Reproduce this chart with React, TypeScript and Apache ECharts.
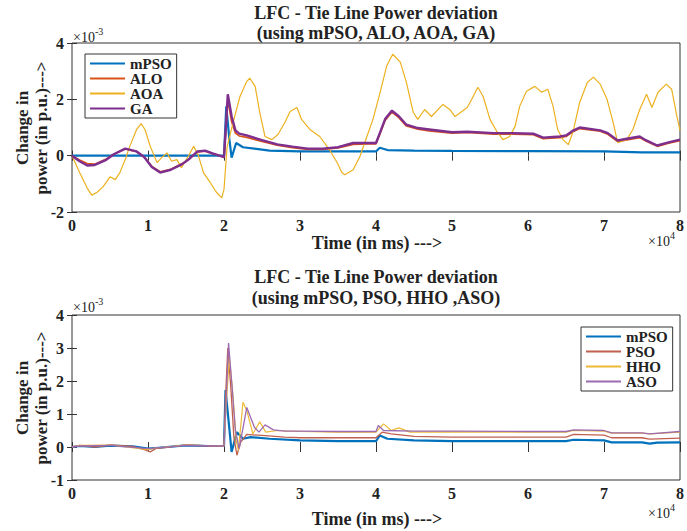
import React, { useEffect, useRef } from "react";
import * as echarts from "echarts";

const FONT = "'Liberation Serif', 'Times New Roman', serif";

// x in units of 1e4 ms, y in units of 1e-3 p.u.
const topTitle1 = "LFC - Tie Line Power deviation";
const topTitle2 = "(using mPSO, ALO, AOA, GA)";
const botTitle1 = "LFC - Tie Line Power deviation";
const botTitle2 = "(using mPSO, PSO, HHO ,ASO)";
const xAxisName = "Time (in ms) --->";
const yAxisName1 = "Change in";
const yAxisName2 = "power (in p.u.)--->";

const topNames = ["mPSO", "ALO", "AOA", "GA"];
const botNames = ["mPSO", "PSO", "HHO", "ASO"];

const topMPSO: [number, number][] = [
  [0, 0], [0.5, 0], [1, 0], [1.5, 0], [2.0, 0.0], [2.03, 1.75], [2.07, 0.6], [2.1, -0.07],
  [2.16, 0.45], [2.25, 0.3], [2.4, 0.25], [2.6, 0.18], [3.0, 0.15], [3.5, 0.15], [4.0, 0.15],
  [4.05, 0.28], [4.15, 0.2], [4.5, 0.18], [5, 0.17], [6, 0.16], [7, 0.15], [7.5, 0.12], [8, 0.12],
];

const topALO: [number, number][] = [
  [0, 0], [0.1, -0.15], [0.2, -0.28], [0.3, -0.3], [0.45, -0.12], [0.55, 0.05], [0.7, 0.24],
  [0.85, 0.14], [0.95, -0.05], [1.05, -0.38], [1.16, -0.57], [1.3, -0.48], [1.45, -0.28],
  [1.55, -0.1], [1.65, 0.13], [1.75, 0.16], [1.85, 0.07], [2.0, -0.05], [2.02, 0.7], [2.05, 2.0],
  [2.1, 1.2], [2.15, 0.8], [2.2, 0.7], [2.3, 0.65], [2.5, 0.5], [2.7, 0.37], [2.9, 0.28],
  [3.1, 0.22], [3.3, 0.22], [3.5, 0.27], [3.7, 0.4], [3.9, 0.42], [4.0, 0.42], [4.05, 0.75],
  [4.12, 1.25], [4.21, 1.55], [4.3, 1.35], [4.4, 1.05], [4.55, 0.94], [4.7, 0.88], [5.0, 0.8],
  [5.2, 0.82], [5.55, 0.76], [5.8, 0.76], [6.07, 0.74], [6.2, 0.6], [6.42, 0.64], [6.5, 0.68],
  [6.6, 0.86], [6.68, 0.96], [6.95, 0.87], [7.05, 0.76], [7.18, 0.5], [7.3, 0.56], [7.47, 0.64],
  [7.55, 0.52], [7.7, 0.33], [7.85, 0.44], [8, 0.53],
];

const topAOA: [number, number][] = [
  [0, 0], [0.1, -0.6], [0.2, -1.15], [0.26, -1.4], [0.33, -1.3], [0.41, -1.1], [0.5, -0.75],
  [0.57, -0.85], [0.63, -0.6], [0.7, -0.14], [0.76, 0.33], [0.85, 0.93], [0.91, 1.14],
  [0.96, 0.93], [1.03, 0.33], [1.12, -0.25], [1.18, -0.07], [1.25, 0.1], [1.31, -0.2],
  [1.38, -0.14], [1.44, -0.43], [1.53, -0.02], [1.6, 0.33], [1.66, 0.03], [1.73, -0.6],
  [1.82, -0.96], [1.9, -1.3], [1.97, -1.5], [2.0, -1.2], [2.04, 0.3], [2.12, 1.18], [2.21, 2.1],
  [2.3, 2.64], [2.34, 2.75], [2.41, 2.46], [2.47, 1.54], [2.54, 0.68], [2.63, 0.57], [2.71, 0.75],
  [2.8, 1.18], [2.87, 1.57], [2.96, 1.71], [3.02, 1.29], [3.13, 0.93], [3.26, 0.68], [3.39, 0.2],
  [3.49, -0.25], [3.55, -0.6], [3.59, -0.68], [3.7, -0.5], [3.79, -0.02], [3.88, 0.68],
  [3.96, 1.29], [4.05, 2.2], [4.14, 3.18], [4.22, 3.6], [4.32, 3.32], [4.4, 2.6], [4.49, 1.54],
  [4.55, 1.29], [4.64, 1.64], [4.73, 1.39], [4.88, 1.82], [4.97, 1.64], [5.04, 1.39], [5.2, 1.71],
  [5.26, 2.0], [5.34, 2.43], [5.41, 2.1], [5.5, 1.29], [5.59, 0.86], [5.67, 0.57], [5.76, 0.68],
  [5.83, 1.04], [5.89, 1.75], [5.98, 2.29], [6.09, 2.46], [6.18, 2.25], [6.26, 2.36], [6.33, 1.75],
  [6.39, 0.93], [6.46, 0.57], [6.53, 0.39], [6.59, 0.82], [6.68, 1.89], [6.78, 2.6], [6.86, 2.79],
  [6.95, 2.54], [7.04, 2.0], [7.12, 1.18], [7.18, 0.46], [7.3, 0.57], [7.38, 0.93], [7.47, 1.64],
  [7.56, 2.18], [7.63, 1.71], [7.71, 2.25], [7.82, 2.54], [7.89, 2.36], [7.96, 1.39], [8, 0.9],
];

const topGA: [number, number][] = [
  [0, 0], [0.1, -0.2], [0.2, -0.35], [0.3, -0.33], [0.45, -0.15], [0.55, 0.05], [0.7, 0.25],
  [0.85, 0.15], [0.95, -0.05], [1.05, -0.4], [1.16, -0.6], [1.3, -0.5], [1.45, -0.3], [1.55, -0.1],
  [1.65, 0.15], [1.75, 0.18], [1.85, 0.08], [2.0, -0.05], [2.02, 0.8], [2.05, 2.18], [2.1, 1.4],
  [2.15, 0.9], [2.2, 0.78], [2.3, 0.72], [2.5, 0.55], [2.7, 0.4], [2.9, 0.32], [3.1, 0.25],
  [3.3, 0.25], [3.5, 0.3], [3.7, 0.45], [3.9, 0.45], [4.0, 0.45], [4.05, 0.8], [4.12, 1.3],
  [4.21, 1.6], [4.3, 1.4], [4.4, 1.1], [4.55, 0.98], [4.7, 0.93], [5.0, 0.83], [5.2, 0.85],
  [5.55, 0.8], [5.8, 0.8], [6.07, 0.78], [6.2, 0.64], [6.42, 0.68], [6.5, 0.72], [6.6, 0.9],
  [6.68, 1.0], [6.95, 0.9], [7.05, 0.8], [7.18, 0.54], [7.3, 0.6], [7.47, 0.68], [7.55, 0.55],
  [7.7, 0.36], [7.85, 0.47], [8, 0.57],
];

const botMPSO: [number, number][] = [
  [0, 0], [0.1, 0.03], [0.3, 0.0], [0.5, 0.04], [0.8, 0.02], [1.0, -0.05], [1.1, -0.03],
  [1.5, 0.05], [1.8, 0.03], [2.0, 0.03], [2.02, 1.73], [2.06, 0.8], [2.1, -0.15], [2.17, 0.45],
  [2.25, 0.25], [2.35, 0.3], [2.6, 0.25], [3.0, 0.2], [3.5, 0.18], [4.0, 0.18], [4.05, 0.35],
  [4.15, 0.25], [4.5, 0.2], [5.0, 0.18], [6.0, 0.18], [6.5, 0.18], [6.6, 0.22], [7.0, 0.2],
  [7.1, 0.14], [7.5, 0.14], [7.6, 0.1], [7.7, 0.13], [8, 0.14],
];

const botPSO: [number, number][] = [
  [0, 0], [0.1, 0.05], [0.3, 0.0], [0.5, 0.06], [0.8, 0.02], [0.95, -0.08], [1.03, -0.15],
  [1.1, -0.05], [1.5, 0.06], [1.8, 0.03], [2.0, 0.03], [2.02, 1.5], [2.05, 3.0], [2.09, 1.8],
  [2.13, 0.3], [2.17, -0.25], [2.22, 0.15], [2.3, 0.38], [2.5, 0.35], [2.8, 0.3], [3.0, 0.28],
  [3.5, 0.28], [4.0, 0.28], [4.08, 0.45], [4.2, 0.4], [4.5, 0.32], [5, 0.3], [6, 0.3], [6.5, 0.3],
  [6.6, 0.38], [7.0, 0.36], [7.1, 0.28], [7.5, 0.28], [7.6, 0.24], [8, 0.27],
];

const botHHO: [number, number][] = [
  [0, 0], [0.1, 0.05], [0.5, 0.06], [1.0, -0.08], [1.1, -0.03], [1.5, 0.06], [2.0, 0.03],
  [2.03, 1.3], [2.07, 2.7], [2.11, 1.8], [2.16, 0.2], [2.19, -0.1], [2.25, 1.36], [2.3, 1.1],
  [2.38, 0.4], [2.47, 0.76], [2.55, 0.45], [2.7, 0.5], [3.0, 0.47], [3.5, 0.45], [4.0, 0.45],
  [4.1, 0.7], [4.2, 0.5], [4.3, 0.58], [4.45, 0.45], [5, 0.46], [6, 0.45], [6.5, 0.45],
  [6.6, 0.5], [7.0, 0.48], [7.1, 0.42], [7.5, 0.42], [7.6, 0.4], [8, 0.45],
];

const botASO: [number, number][] = [
  [0, 0], [0.1, 0.03], [0.5, 0.05], [1.0, -0.05], [1.5, 0.05], [2.0, 0.03], [2.03, 1.5],
  [2.06, 3.15], [2.1, 2.0], [2.15, 0.5], [2.2, -0.05], [2.3, 1.2], [2.4, 0.6], [2.46, 0.45],
  [2.54, 0.67], [2.65, 0.52], [2.8, 0.48], [3.0, 0.48], [3.5, 0.47], [4.0, 0.47], [4.03, 0.65],
  [4.1, 0.5], [4.5, 0.48], [5, 0.48], [6, 0.47], [6.5, 0.47], [6.6, 0.52], [7.0, 0.5],
  [7.1, 0.43], [7.5, 0.43], [7.6, 0.4], [8, 0.47],
];

const COLORS: Record<string, string> = {
  mPSO: "#0072BD",
  ALO: "#D95319",
  AOA: "#EDB120",
  GA: "#7E2F8E",
  PSO: "#C0604F",
  HHO: "#EDB938",
  ASO: "#9C6BB0",
};

const AX = "#333";

function mkX(gridIndex: number, pos: "bottom" | "top") {
  return {
    type: "value" as const,
    gridIndex,
    position: pos,
    min: 0,
    max: 8,
    interval: 1,
    axisLine: { show: false },
    axisTick: { show: true, inside: true, length: 5, lineStyle: { color: AX } },
    splitLine: { show: false },
    axisLabel: {
      show: pos === "bottom",
      margin: 5,
      fontFamily: FONT,
      fontWeight: "bold" as const,
      fontSize: 16,
      color: "#222",
    },
  };
}

function mkY(gridIndex: number, pos: "left" | "right", min: number, max: number, interval: number) {
  return {
    type: "value" as const,
    gridIndex,
    position: pos,
    min,
    max,
    interval,
    axisLine: { show: false },
    axisTick: { show: true, inside: true, length: 5, lineStyle: { color: AX } },
    splitLine: { show: false },
    axisLabel: {
      show: pos === "left",
      margin: 8,
      fontFamily: FONT,
      fontWeight: "bold" as const,
      fontSize: 16,
      color: "#222",
    },
  };
}

function line(name: string, data: [number, number][], axis: number, width: number, z: number) {
  return {
    type: "line" as const,
    name,
    data,
    xAxisIndex: axis,
    yAxisIndex: axis,
    symbol: "none",
    showSymbol: false,
    smooth: false,
    silent: true,
    z,
    lineStyle: { color: COLORS[name], width },
    itemStyle: { color: COLORS[name] },
    emphasis: { disabled: true },
  };
}

const boldText = (x: number, y: number, text: string, size = 18, rotation = 0) => ({
  type: "text" as const,
  x,
  y,
  rotation,
  silent: true,
  style: {
    text,
    fontFamily: FONT,
    fontWeight: "bold",
    fontSize: size,
    fill: "#222",
    align: "center",
    verticalAlign: "middle",
  },
});

const plainText = (x: number, y: number, text: string, size: number) => ({
  type: "text" as const,
  x,
  y,
  silent: true,
  style: {
    text,
    fontFamily: FONT,
    fontSize: size,
    fill: "#222",
    align: "left",
    verticalAlign: "middle",
  },
});

const legendBase = {
  orient: "vertical" as const,
  itemWidth: 35,
  itemHeight: 14,
  itemGap: 0,
  padding: [2, 5, 2, 4],
  borderColor: "#333",
  borderWidth: 1,
  backgroundColor: "#fff",
  borderRadius: 0,
  selectedMode: false,
  itemStyle: { opacity: 0 },
  textStyle: { fontFamily: FONT, fontWeight: "bold" as const, fontSize: 15, color: "#222" },
};

export default function App() {
  const ref = useRef<HTMLDivElement>(null);
  useEffect(() => {
    const chart = echarts.init(ref.current!, null, { renderer: "svg" });
    const option = {
      animation: false,
      backgroundColor: "#fff",
      grid: [
        { left: 72, right: 7, top: 43, height: 169, show: true, borderColor: AX, borderWidth: 1, backgroundColor: "#fff" },
        { left: 72, right: 7, top: 315, height: 165, show: true, borderColor: AX, borderWidth: 1, backgroundColor: "#fff" },
      ],
      xAxis: [mkX(0, "bottom"), mkX(0, "top"), mkX(1, "bottom"), mkX(1, "top")],
      yAxis: [mkY(0, "left", -2, 4, 2), mkY(0, "right", -2, 4, 2), mkY(1, "left", -1, 4, 1), mkY(1, "right", -1, 4, 1)],
      legend: [
        { ...legendBase, data: topNames, left: 85, top: 54 },
        { ...legendBase, data: botNames, left: 581, top: 327 },
      ],
      series: [
        line("mPSO", topMPSO, 0, 2.2, 5),
        line("ALO", topALO, 0, 1.6, 6),
        line("AOA", topAOA, 0, 1.2, 7),
        line("GA", topGA, 0, 2.4, 8),
        { ...line("mPSO", botMPSO, 2, 2.2, 5), xAxisIndex: 2, yAxisIndex: 2 },
        { ...line("PSO", botPSO, 2, 1.3, 6), xAxisIndex: 2, yAxisIndex: 2 },
        { ...line("HHO", botHHO, 2, 1.2, 7), xAxisIndex: 2, yAxisIndex: 2 },
        { ...line("ASO", botASO, 2, 1.3, 8), xAxisIndex: 2, yAxisIndex: 2 },
      ],
      graphic: [
        boldText(376, 13, topTitle1),
        boldText(376, 33, topTitle2),
        boldText(377, 243, xAxisName),
        boldText(22, 128, yAxisName1, 17, Math.PI / 2),
        boldText(41, 128, yAxisName2, 17, Math.PI / 2),
        plainText(73, 37, "×10", 14),
        plainText(95, 31, "-3", 10),
        plainText(648, 241, "×10", 14),
        plainText(670, 235, "4", 10),

        boldText(376, 277, botTitle1),
        boldText(376, 298, botTitle2),
        boldText(377, 519, xAxisName),
        boldText(22, 398, yAxisName1, 17, Math.PI / 2),
        boldText(41, 398, yAxisName2, 17, Math.PI / 2),
        plainText(73, 307, "×10", 14),
        plainText(95, 301, "-3", 10),
        plainText(648, 513, "×10", 14),
        plainText(670, 507, "4", 10),
      ],
    };
    chart.setOption(option as any);
    return () => chart.dispose();
  }, []);
  return (
    <div
      ref={ref}
      style={{ position: "absolute", left: 0, top: 0, width: 687, height: 531, background: "#fff" }}
    />
  );
}
